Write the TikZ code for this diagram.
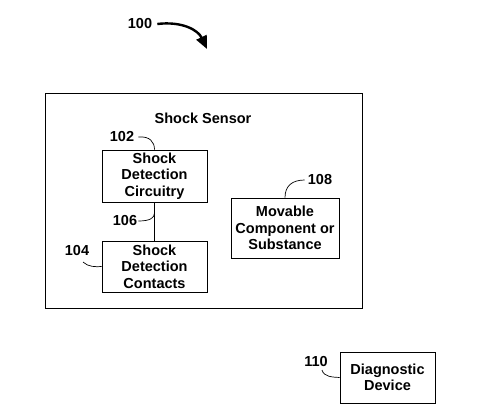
\documentclass[tikz,border=0pt]{standalone}
\usepackage{fontspec}
\setmainfont{Liberation Sans}
\usetikzlibrary{arrows.meta}
\begin{document}
\begin{tikzpicture}[x=1pt,y=-1pt,
  every node/.style={font=\bfseries\fontsize{14.5}{16.4}\selectfont},
  blk/.style={draw, line width=0.8pt, inner sep=0pt, align=center},
  lead/.style={line width=0.7pt},
  lbl/.style={inner sep=1pt}]
\useasboundingbox (0,0) rectangle (500,416);
% outer box
\node[blk, minimum width=317, minimum height=215, anchor=north west] (sensor) at (45,93) {};
\node (title) at (203,118) {Shock Sensor};
% blocks
\node[blk, minimum width=105, minimum height=52] (b102) at (154.5,176) {Shock\\Detection\\Circuitry};
\node[blk, minimum width=105, minimum height=51] (b104) at (154.5,266.5) {Shock\\Detection\\Contacts};
\node[blk, minimum width=108, minimum height=60] (b108) at (285,228) {Movable\\Component or\\Substance};
\node[blk, minimum width=95, minimum height=51] (b110) at (387.5,377.5) {Diagnostic\\Device};
\draw[lead] (b102.south) -- (b104.north);
% labels
\node[lbl] (l100) at (140,24) {100};
\node[lbl] (l102) at (122,137) {102};
\node[lbl] (l106) at (125,221) {106};
\node[lbl] (l104) at (77,251) {104};
\node[lbl] (l108) at (320,180) {108};
\node[lbl] (l110) at (316,361) {110};
\coordinate (c106) at (154.5,213);
% leaders
\draw[line width=2.4pt, -{Triangle[length=13pt,width=11pt]}] ([xshift=4pt]l100.east) .. controls (182,21) and (198,30) .. (207,49);
\draw[lead] ([xshift=3pt]l102.east) .. controls (150,136) and (154.5,142) .. (b102.north);
\draw[lead] (l106.east) .. controls (150,221) and (154.5,218) .. (c106);
\draw[lead] (83,262) .. controls (88,267) and (96,267) .. (b104.west);
\draw[lead] ([xshift=-2pt]l108.west) .. controls (292,180) and (285,186) .. (b108.north);
\draw[lead] (322,370) .. controls (324,377) and (332,377) .. (b110.west);
\end{tikzpicture}
\end{document}
